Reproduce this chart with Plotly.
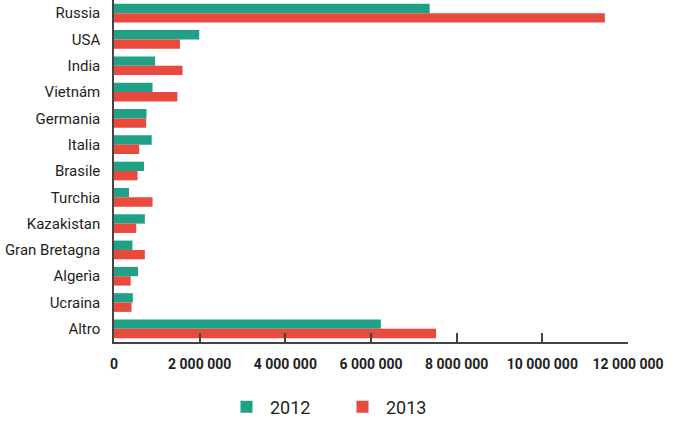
import plotly.graph_objects as go

categories = ["Russia", "USA", "India", "Vietnám", "Germania", "Italia", "Brasile",
              "Turchia", "Kazakistan", "Gran Bretagna", "Algerìa", "Ucraina", "Altro"]
values_2012 = [7370000, 1990000, 960000, 900000, 760000, 880000, 700000,
               350000, 720000, 430000, 560000, 440000, 6230000]
values_2013 = [11460000, 1540000, 1600000, 1480000, 750000, 590000, 550000,
               900000, 520000, 720000, 390000, 410000, 7520000]
series_names = ["2012", "2013"]
tick_vals = [0, 2000000, 4000000, 6000000, 8000000, 10000000, 12000000]

GREEN = "#20a084"
RED = "#e84b3e"
FONT = "Roboto, sans-serif"

fig = go.Figure()
fig.add_trace(go.Bar(y=categories, x=values_2012, name=series_names[0], orientation="h",
                     marker=dict(color=GREEN, line=dict(width=0))))
fig.add_trace(go.Bar(y=categories, x=values_2013, name=series_names[1], orientation="h",
                     marker=dict(color=RED, line=dict(width=0))))

fig.update_layout(
    width=678, height=421,
    margin=dict(l=114, r=50, t=0, b=79, autoexpand=False),
    paper_bgcolor="white", plot_bgcolor="white",
    barmode="group", bargap=0.29, bargroupgap=0,
    separators=", ",
    font=dict(family=FONT, size=14, color="#231f20"),
    showlegend=True,
    legend=dict(orientation="h", xref="container", yref="paper",
                x=0.5, xanchor="center", y=-0.19, yanchor="middle",
                font=dict(family=FONT, size=18, color="#231f20"),
                entrywidth=64, itemwidth=37, traceorder="normal"),
    xaxis=dict(range=[0, 12000000], tickvals=tick_vals, tickformat=",d",
               showgrid=False, zeroline=False, automargin=False, tickangle=0,
               showline=True, linecolor="#444", linewidth=1.5,
               ticks="inside", ticklen=9, tickcolor="#444", tickwidth=1.5,
               ticklabelstandoff=8,
               tickfont=dict(family=FONT, size=14, color="#231f20", weight="bold"),
               fixedrange=True),
    yaxis=dict(autorange="reversed", showgrid=False, zeroline=False, automargin=False,
               showline=True, linecolor="#444", linewidth=1.5,
               ticks="", ticklabelstandoff=9,
               tickfont=dict(family=FONT, size=15, color="#231f20"),
               fixedrange=True),
)

fig.write_html("out.html", config={"displayModeBar": False},
               post_script="document.body.style.margin='0';document.body.style.padding='0';")
